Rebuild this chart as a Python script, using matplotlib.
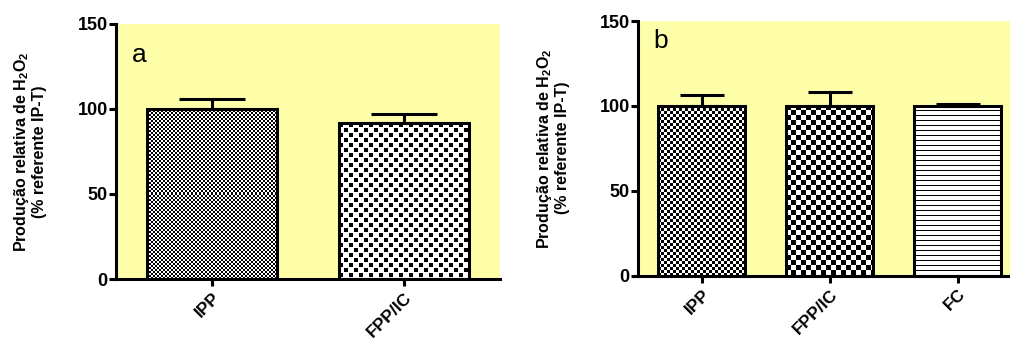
import numpy as np
import matplotlib
matplotlib.use('Agg')
import matplotlib.pyplot as plt

plt.rcParams['font.family'] = ['Liberation Sans', 'DejaVu Sans']
plt.rcParams['mathtext.fontset'] = 'custom'
plt.rcParams['mathtext.rm'] = 'Liberation Sans:bold'
plt.rcParams['mathtext.bf'] = 'Liberation Sans:bold'

# dados
cats_a = ['IPP', 'FPP/IC']
vals_a = [100, 91.5]
err_a = [5.8, 5.5]

cats_b = ['IPP', 'FPP/IC', 'FC']
vals_b = [100, 100, 100]
err_b = [6.5, 8.3, 1.0]

ylabel = 'Produção relativa de H$_2$O$_2$\n(% referente IP-T)'
bg = '#ffffaa'


def checker(n):
    return np.kron(np.array([[1, 0], [0, 1]]), np.ones((n, n)))


def dots(p, s):
    t = np.zeros((p, p))
    t[:s, :s] = 1
    h = p // 2
    t[h:h + s, h:h + s] = 1
    return t


def horiz(p):
    t = np.zeros((p, 1))
    t[0, 0] = 1
    return t


def fill_texture(ax, bar, tile):
    x0, y0 = bar.get_x(), bar.get_y()
    w, h = bar.get_width(), bar.get_height()
    (px0, py0), (px1, py1) = ax.transData.transform([(x0, y0), (x0 + w, y0 + h)])
    nx, ny = int(round(px1 - px0)), int(round(py1 - py0))
    reps = (ny // tile.shape[0] + 2, nx // tile.shape[1] + 2)
    img = np.tile(tile, reps)[:ny, :nx]
    im = ax.imshow(img, cmap='gray_r', vmin=0, vmax=1, extent=(x0, x0 + w, y0, y0 + h),
                   interpolation='nearest', aspect='auto', zorder=2)
    im.set_clip_path(bar)


def style_axes(ax, xlim, cats):
    ax.set_facecolor(bg)
    ax.set_xlim(*xlim)
    ax.set_ylim(0, 150)
    ax.set_yticks([0, 50, 100, 150])
    ax.set_xticks(range(len(cats)))
    ax.set_xticklabels(cats, rotation=45, ha='right', rotation_mode='anchor',
                       fontweight='bold', fontsize=12.5)
    for lab in ax.get_yticklabels():
        lab.set_fontweight('bold')
        lab.set_fontsize(13)
    for s in ['top', 'right']:
        ax.spines[s].set_visible(False)
    for s in ['left', 'bottom']:
        ax.spines[s].set_linewidth(2.2)
    ax.tick_params(axis='y', direction='out', length=5, width=2.2, pad=1)
    ax.tick_params(axis='x', direction='out', length=5, width=2.2, pad=3)
    ax.set_ylabel(ylabel, fontweight='bold', fontsize=11.5, linespacing=1.1)


def draw_panel(ax, cats, vals, errs, tiles, capsize, letter, letter_y):
    x = np.arange(len(cats))
    bars = ax.bar(x, vals, width=0.68, facecolor='none', edgecolor='black',
                  linewidth=2.2, zorder=3)
    ax.errorbar(x, vals, yerr=[np.zeros(len(errs)), errs], fmt='none', ecolor='black',
                elinewidth=2.2, capsize=capsize, capthick=2.2, zorder=3)
    for b, t in zip(bars, tiles):
        fill_texture(ax, b, t)
    ax.text(0.042, letter_y, letter, transform=ax.transAxes, fontsize=19,
            va='baseline', ha='left')


fig = plt.figure(figsize=(10.1, 3.44), dpi=100)

ax1 = fig.add_axes([116 / 1010, 65 / 344, 384 / 1010, 255 / 344])
style_axes(ax1, (-0.5, 1.5), cats_a)
draw_panel(ax1, cats_a, vals_a, err_a, [checker(2), dots(10, 4)], 24, 'a', 0.85)
ax1.yaxis.set_label_coords(-0.18, 0.5)

ax2 = fig.add_axes([638 / 1010, 68.5 / 344, 372 / 1010, 254.5 / 344])
style_axes(ax2, (-0.5, 2.41), cats_b)
draw_panel(ax2, cats_b, vals_b, err_b, [checker(3), checker(5), horiz(5)], 16, 'b', 0.895)
ax2.yaxis.set_label_coords(-0.183, 0.5)

fig.savefig('out.png', dpi=100)
